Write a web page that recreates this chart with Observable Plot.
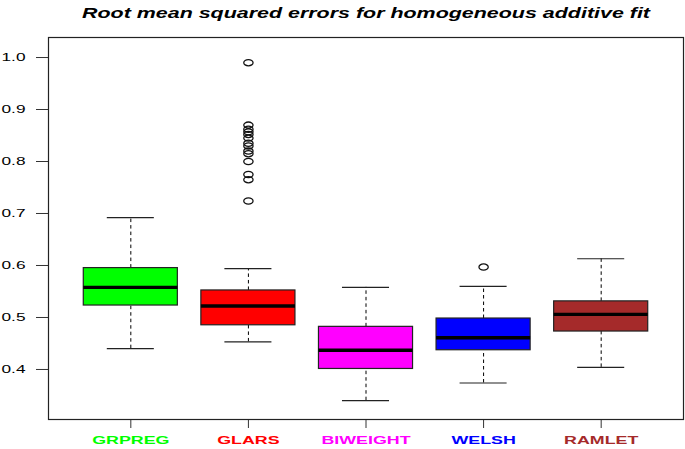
<!DOCTYPE html>
<html>
<head>
<meta charset="utf-8">
<script src="https://cdn.jsdelivr.net/npm/d3@7"></script>
<script src="https://cdn.jsdelivr.net/npm/@observablehq/plot@0.6"></script>
<style>
  html, body { margin: 0; padding: 0; background: white; }
  svg { display: block; }
</style>
</head>
<body>
<script>
const title = "Root mean squared errors for homogeneous additive fit";
const methods = ["GRPREG", "GLARS", "BIWEIGHT", "WELSH", "RAMLET"];
const colors = ["#00FF00", "#FF0000", "#FF00FF", "#0000FF", "#A52A2A"];
const whiskerLow = [0.440, 0.453, 0.340, 0.374, 0.404];
const q1 = [0.523, 0.485, 0.401, 0.437, 0.473];
const median = [0.558, 0.522, 0.437, 0.461, 0.506];
const q3 = [0.595, 0.552, 0.482, 0.498, 0.531];
const whiskerHigh = [0.692, 0.594, 0.558, 0.560, 0.613];
const outlierMethod = ["GLARS","GLARS","GLARS","GLARS","GLARS","GLARS","GLARS","GLARS","GLARS","GLARS","GLARS","GLARS","GLARS","GLARS","WELSH"];
const outlierValue = [0.990, 0.870, 0.862, 0.857, 0.852, 0.845, 0.835, 0.830, 0.820, 0.815, 0.800, 0.775, 0.765, 0.724, 0.597];
const yTicks = [0.4, 0.5, 0.6, 0.7, 0.8, 0.9, 1.0];

const rows = methods.map((m, i) => ({
  method: m, pos: i + 1, color: colors[i],
  lo: whiskerLow[i], q1: q1[i], med: median[i], q3: q3[i], hi: whiskerHigh[i]
}));
const outliers = outlierValue.map((v, i) => ({
  pos: methods.indexOf(outlierMethod[i]) + 1, value: v
}));

// open ellipse symbol (R's pch=1 as it appears, horizontally stretched)
const ellipse = {
  draw(ctx, size) {
    const r = Math.sqrt(size / Math.PI);
    const rx = r * 1.5, ry = r, k = 0.5523;
    ctx.moveTo(rx, 0);
    ctx.bezierCurveTo(rx, k * ry, k * rx, ry, 0, ry);
    ctx.bezierCurveTo(-k * rx, ry, -rx, k * ry, -rx, 0);
    ctx.bezierCurveTo(-rx, -k * ry, -k * rx, -ry, 0, -ry);
    ctx.bezierCurveTo(k * rx, -ry, rx, -k * ry, rx, 0);
    ctx.closePath();
  }
};

const svg = Plot.plot({
  width: 685,
  height: 449,
  marginLeft: 48,
  marginRight: 2,
  marginTop: 37,
  marginBottom: 30,
  style: { fontFamily: "'Liberation Sans', Arial, sans-serif", fontSize: "11px", background: "white", color: "black" },
  x: { domain: [0.3, 5.7] },
  y: { domain: [0.3038, 1.0385] },
  color: { type: "identity" },
  marks: [
    Plot.axisY({ ticks: yTicks, tickFormat: d3.format(".1f"), tickSize: 12, tickPadding: 11, fontSize: 11, label: null, stroke: "#333" }),
    Plot.axisX({ ticks: rows.map(d => d.pos), tickSize: 9, tickFormat: () => "", label: null, stroke: "#333" }),
    Plot.ruleX(rows, { x: "pos", y1: "lo", y2: "q1", stroke: "black", strokeDasharray: "3.5,3", strokeWidth: 1 }),
    Plot.ruleX(rows, { x: "pos", y1: "q3", y2: "hi", stroke: "black", strokeDasharray: "3.5,3", strokeWidth: 1 }),
    Plot.ruleY(rows, { y: "lo", x1: d => d.pos - 0.2, x2: d => d.pos + 0.2, stroke: "#222", strokeWidth: 1.2 }),
    Plot.ruleY(rows, { y: "hi", x1: d => d.pos - 0.2, x2: d => d.pos + 0.2, stroke: "#222", strokeWidth: 1.2 }),
    Plot.rect(rows, { x1: d => d.pos - 0.4, x2: d => d.pos + 0.4, y1: "q1", y2: "q3", fill: "color", stroke: "#222", strokeWidth: 1.2 }),
    Plot.ruleY(rows, { y: "med", x1: d => d.pos - 0.4, x2: d => d.pos + 0.4, stroke: "black", strokeWidth: 3.4 }),
    Plot.dot(outliers, { x: "pos", y: "value", r: 3.1, symbol: ellipse, stroke: "#111", strokeWidth: 1.3, fill: "none" }),
    Plot.frame({ stroke: "#222", strokeWidth: 1.2 }),
    Plot.text(rows, { x: "pos", text: "method", fill: "color", frameAnchor: "bottom", dy: 24, fontSize: 11, fontWeight: "bold" }),
    Plot.text([title], { text: d => d, frameAnchor: "top", dy: -29, fontSize: 14, fontWeight: "bold", fontStyle: "italic" })
  ]
});
document.body.append(svg);

// The reference's glyphs are horizontally stretched; mimic with textLength.
svg.querySelectorAll("text").forEach(t => {
  const s = t.textContent;
  if (!s) return;
  const w = t.getComputedTextLength();
  let f;
  if (s === title) f = 568 / w;
  else if (methods.includes(s)) f = 1.62;
  else f = 1.57;
  t.setAttribute("textLength", (w * f).toFixed(1));
  t.setAttribute("lengthAdjust", "spacingAndGlyphs");
});
</script>
</body>
</html>
